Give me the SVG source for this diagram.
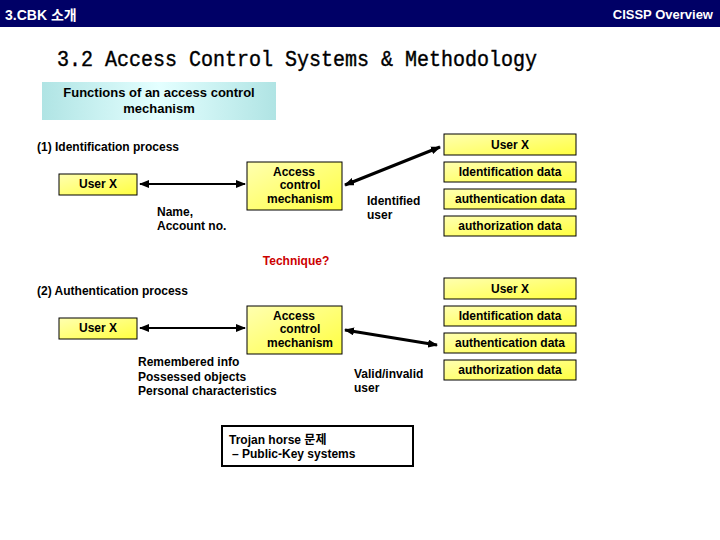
<svg xmlns="http://www.w3.org/2000/svg" width="720" height="540" viewBox="0 0 720 540">
<style>
text{font-family:"Liberation Sans",Arial,sans-serif;font-weight:bold;font-size:12px;fill:#000}
.c{text-anchor:middle}
.box{fill:url(#yel);stroke:#000;stroke-width:1}
.ln{stroke:#000;fill:none}
</style>
<defs>
<linearGradient id="yel" x1="0" y1="0" x2="1" y2="1">
<stop offset="0" stop-color="#ffffb0"/>
<stop offset="1" stop-color="#ffff40"/>
</linearGradient>
<linearGradient id="cy" x1="0" y1="0" x2="1" y2="0">
<stop offset="0" stop-color="#b0e4e4"/>
<stop offset="0.5" stop-color="#e4ffff"/>
<stop offset="1" stop-color="#b0e4e4"/>
</linearGradient>
<marker id="ah" markerUnits="userSpaceOnUse" markerWidth="10" markerHeight="8" refX="9" refY="4" orient="auto-start-reverse">
<path d="M0,0 L10,4 L0,8 Z" fill="#000"/>
</marker>
</defs>
<rect width="720" height="540" fill="#fff"/>
<g id="header">
<rect x="0" y="0" width="720" height="27" fill="#000066"/>
<text x="5" y="20" style="fill:#fff;font-size:14px;font-family:'Liberation Sans','Noto Sans CJK KR',sans-serif">3.CBK 소개</text>
<text x="713" y="19" style="fill:#fff;font-size:13px;text-anchor:end">CISSP Overview</text>
</g>
<text id="title" x="57" y="66" textLength="480" lengthAdjust="spacingAndGlyphs" style="font-family:'Liberation Mono','DejaVu Sans Mono',monospace;font-size:22px;font-weight:normal;stroke:#000;stroke-width:0.4">3.2 Access Control Systems &amp; Methodology</text>
<g id="subtitle">
<rect x="42" y="82" width="234" height="38" fill="url(#cy)"/>
<text class="c" x="159" y="97" style="font-size:13px">Functions of an access control</text>
<text class="c" x="159" y="113" style="font-size:13px">mechanism</text>
</g>
<text x="37" y="151">(1) Identification process</text>
<text x="37" y="295">(2) Authentication process</text>
<text class="c" x="296" y="265" style="fill:#cc0000">Technique?</text>

<g id="connectors">
<line class="ln" x1="140" y1="184" x2="245" y2="184" stroke-width="2" marker-start="url(#ah)" marker-end="url(#ah)"/>
<line class="ln" x1="345" y1="185" x2="440" y2="147" stroke-width="3" marker-start="url(#ah)" marker-end="url(#ah)"/>
<line class="ln" x1="140" y1="328" x2="245" y2="328" stroke-width="2" marker-start="url(#ah)" marker-end="url(#ah)"/>
<line class="ln" x1="345" y1="330" x2="437" y2="345" stroke-width="3" marker-start="url(#ah)" marker-end="url(#ah)"/>
</g>

<g id="userx1"><rect class="box" x="59" y="174" width="78" height="21"/><text class="c" x="98" y="188">User X</text></g>
<g id="acm1"><rect class="box" x="247" y="162" width="95" height="48"/>
<text class="c" x="294" y="176">Access</text><text class="c" x="300" y="189">control</text><text class="c" x="300" y="203">mechanism</text></g>
<g id="userx1r"><rect class="box" x="444" y="134" width="132" height="21"/><text class="c" x="510" y="149">User X</text></g>
<g id="ident1"><rect class="box" x="444" y="162" width="132" height="20"/><text class="c" x="510" y="176">Identification data</text></g>
<g id="authn1"><rect class="box" x="444" y="189" width="132" height="20"/><text class="c" x="510" y="203">authentication data</text></g>
<g id="authz1"><rect class="box" x="444" y="216" width="132" height="20"/><text class="c" x="510" y="230">authorization data</text></g>
<text x="157" y="216">Name,</text>
<text x="157" y="230">Account no.</text>
<text x="367" y="205">Identified</text>
<text x="367" y="219">user</text>

<g id="userx2"><rect class="box" x="59" y="318" width="78" height="21"/><text class="c" x="98" y="332">User X</text></g>
<g id="acm2"><rect class="box" x="247" y="306" width="95" height="48"/>
<text class="c" x="294" y="320">Access</text><text class="c" x="300" y="333">control</text><text class="c" x="300" y="347">mechanism</text></g>
<g id="userx2r"><rect class="box" x="444" y="278" width="132" height="21"/><text class="c" x="510" y="293">User X</text></g>
<g id="ident2"><rect class="box" x="444" y="306" width="132" height="20"/><text class="c" x="510" y="320">Identification data</text></g>
<g id="authn2"><rect class="box" x="444" y="333" width="132" height="20"/><text class="c" x="510" y="347">authentication data</text></g>
<g id="authz2"><rect class="box" x="444" y="360" width="132" height="20"/><text class="c" x="510" y="374">authorization data</text></g>
<text x="138" y="366">Remembered info</text>
<text x="138" y="381">Possessed objects</text>
<text x="138" y="395">Personal characteristics</text>
<text x="354" y="378">Valid/invalid</text>
<text x="354" y="392">user</text>

<g id="trojan">
<rect x="222" y="426" width="191" height="40" fill="#fff" stroke="#000" stroke-width="2"/>
<text x="229" y="444" style="font-family:'Liberation Sans','Noto Sans CJK KR',sans-serif">Trojan horse 문제</text>
<text x="232" y="458">– Public-Key systems</text>
</g>
</svg>
